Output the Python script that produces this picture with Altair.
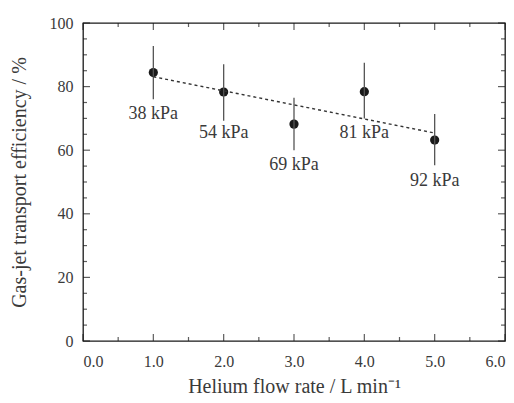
import altair as alt
import pandas as pd

flow = [1.0, 2.0, 3.0, 4.0, 5.0]
eff = [84.4, 78.3, 68.2, 78.4, 63.2]
err_lo = [76.0, 69.3, 60.0, 70.0, 55.3]
err_hi = [92.8, 87.0, 76.5, 87.5, 71.4]
labels = ["38 kPa", "54 kPa", "69 kPa", "81 kPa", "92 kPa"]

trend_x = [1.0, 5.0]
trend_y = [83.1, 65.4]

x_major = [0, 1, 2, 3, 4, 5, 6]
x_minor = [0.5, 1.5, 2.5, 3.5, 4.5, 5.5]
y_major = [0, 20, 40, 60, 80, 100]
y_minor = [5, 10, 15, 25, 30, 35, 45, 50, 55, 65, 70, 75, 85, 90, 95]

df = pd.DataFrame({"flow": flow, "eff": eff, "lo": err_lo, "hi": err_hi, "label": labels})
trend = pd.DataFrame({"flow": trend_x, "eff": trend_y})

FONT = "Liberation Serif"
INK = "#1a1a1a"
TXT = "#3a3a3a"

xs = alt.Scale(domain=[0, 6], nice=False, zero=False)
ys = alt.Scale(domain=[0, 100], nice=False)

base = alt.Chart(df)

points = base.mark_point(filled=True, size=85, color=INK, opacity=1).encode(
    x=alt.X("flow:Q", scale=xs,
            axis=alt.Axis(orient="bottom", values=x_major, format=".1f", ticks=False,
                          domain=False, grid=False, labelFont=FONT, labelFontSize=16,
                          labelColor=TXT, labelPadding=12,
                          title="Helium flow rate / L min\u207b\u00b9",
                          titleFont=FONT, titleFontSize=20, titleFontWeight="normal",
                          titleColor=TXT, titlePadding=7)),
    y=alt.Y("eff:Q", scale=ys,
            axis=alt.Axis(orient="left", values=y_major, ticks=False, domain=False,
                          grid=False, labelFont=FONT, labelFontSize=16, labelColor=TXT,
                          labelPadding=10,
                          title="Gas-jet transport efficiency / %",
                          titleFont=FONT, titleFontSize=20, titleFontWeight="normal",
                          titleColor=TXT, titlePadding=20)),
)

bars = base.mark_rule(color="#555555", strokeWidth=1.3).encode(
    x=alt.X("flow:Q", scale=xs), y=alt.Y("lo:Q", scale=ys), y2="hi:Q")

trend_line = alt.Chart(trend).mark_line(color="#333333", strokeDash=[3, 3], strokeWidth=1.4).encode(
    x=alt.X("flow:Q", scale=xs), y=alt.Y("eff:Q", scale=ys))

text = base.mark_text(font=FONT, fontSize=18, color=TXT, dy=41).encode(
    x=alt.X("flow:Q", scale=xs), y=alt.Y("eff:Q", scale=ys), text="label:N")


def yticks(values, edge, size, sign):
    d = pd.DataFrame({"v": values})
    return alt.Chart(d).mark_tick(orient="horizontal", size=size, thickness=1.2,
                                  color=INK, xOffset=sign * size / 2).encode(
        x=alt.datum(edge, type="quantitative", scale=xs),
        y=alt.Y("v:Q", scale=ys))


def xticks(values, edge, size, sign):
    d = pd.DataFrame({"v": values})
    return alt.Chart(d).mark_tick(orient="vertical", size=size, thickness=1.2,
                                  color=INK, yOffset=sign * size / 2).encode(
        y=alt.datum(edge, type="quantitative", scale=ys),
        x=alt.X("v:Q", scale=xs))


ticks = [
    yticks(y_major, 0, 7, 1), yticks(y_minor, 0, 4, 1),
    yticks(y_major, 6, 7, -1), yticks(y_minor, 6, 4, -1),
    xticks(x_major, 0, 7, -1), xticks(x_minor, 0, 4, -1),
    xticks(x_major, 100, 7, 1), xticks(x_minor, 100, 4, 1),
]

chart = alt.layer(points, bars, trend_line, text, *ticks).properties(
    width=422, height=318,
    autosize=alt.AutoSizeParams(type="none"),
    padding={"left": 83, "top": 23, "right": 9, "bottom": 62},
    background="white",
).configure_view(stroke=INK, strokeWidth=1.3)

chart.save("out.html", embed_options={"renderer": "svg", "actions": False})
